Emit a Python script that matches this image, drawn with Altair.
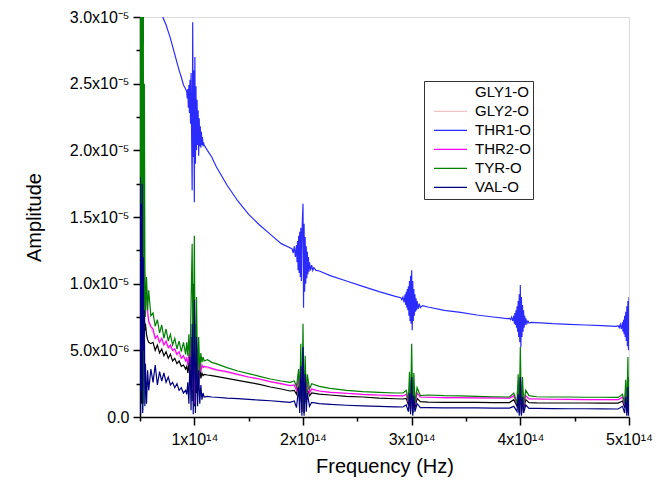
import altair as alt
import pandas as pd

# Frequency samples (units of 1e14 Hz) shared by GLY1, THR2, TYR, VAL
freq = [
    0.50, 0.505, 0.51, 0.515, 0.52, 0.525, 0.53, 0.535, 0.54, 0.545, 0.55, 0.56, 0.57, 0.58, 0.60,
    0.62, 0.64, 0.66, 0.68, 0.70, 0.72, 0.74, 0.76, 0.78, 0.80, 0.82, 0.84, 0.86, 0.88, 0.90, 0.92,
    0.93, 0.94, 0.95, 0.96, 0.97, 0.98, 0.99, 1.00, 1.01, 1.02, 1.03, 1.04, 1.05, 1.06, 1.07, 1.08, 1.09,
    1.12, 1.16, 1.20, 1.30, 1.40, 1.50, 1.60, 1.70, 1.80, 1.88,
    1.92, 1.94, 1.96, 1.97, 1.98, 1.99, 2.00, 2.01, 2.02, 2.03, 2.04, 2.06, 2.08,
    2.15, 2.25, 2.40, 2.55, 2.70, 2.85, 2.92,
    2.95, 2.97, 2.98, 2.99, 3.00, 3.01, 3.02, 3.03, 3.05, 3.08,
    3.15, 3.30, 3.45, 3.60, 3.75, 3.90,
    3.94, 3.97, 3.98, 3.99, 4.00, 4.01, 4.02, 4.03, 4.05, 4.08,
    4.15, 4.30, 4.45, 4.60, 4.75, 4.90,
    4.94, 4.96, 4.97, 4.98, 4.99, 4.995, 5.00,
]

# Amplitudes (units of 1e-6)
gly1 = [
    25, 3, 18, 1, 12, 2, 9, 4, 8, 6.5, 7.0, 6.2, 5.8, 5.6, 5.5,
    5.6, 5.0, 5.4, 4.8, 5.1, 4.6, 4.9, 4.4, 4.7, 4.2, 4.4, 4.0, 4.2, 3.8, 3.9, 3.6,
    3.8, 3.3, 4.2, 2.6, 6.0, 1.2, 10.0, 0.8, 7.0, 1.8, 4.8, 2.5, 3.8, 2.9, 3.3, 3.1, 3.2,
    3.15, 3.1, 3.05, 2.9, 2.75, 2.6, 2.45, 2.25, 2.1, 1.95,
    2.0, 1.7, 2.6, 1.1, 3.2, 0.4, 3.8, 0.3, 3.0, 1.0, 2.2, 1.6, 1.8,
    1.72, 1.65, 1.55, 1.5, 1.42, 1.37, 1.35,
    1.4, 0.9, 2.0, 0.4, 2.6, 0.3, 1.9, 0.7, 1.4, 1.15,
    1.12, 1.1, 1.1, 1.1, 1.08, 1.08,
    1.3, 0.8, 2.0, 0.3, 2.6, 0.2, 1.8, 0.6, 1.3, 1.08,
    1.06, 1.05, 1.05, 1.05, 1.04, 1.04,
    1.2, 0.7, 1.8, 0.4, 2.5, 0.3, 1.6,
]

thr2 = [
    30, 5, 22, 3, 18, 1.5, 15, 2.5, 12, 9.6, 8.5, 9.75, 8.0, 7.2, 6.8,
    6.6, 5.9, 6.1, 5.6, 5.9, 5.4, 5.7, 5.2, 5.4, 5.0, 5.1, 4.7, 4.9, 4.4, 4.6, 4.2,
    4.4, 3.9, 4.8, 3.2, 6.0, 2.0, 7.5, 1.0, 6.5, 2.4, 5.0, 3.0, 4.2, 3.4, 3.9, 3.7, 3.8,
    3.75, 3.65, 3.55, 3.4, 3.2, 3.0, 2.85, 2.65, 2.5, 2.35,
    2.4, 2.0, 3.0, 1.3, 3.5, 0.5, 4.0, 0.3, 3.5, 1.2, 2.6, 1.8, 2.1,
    1.95, 1.85, 1.78, 1.7, 1.65, 1.6, 1.58,
    1.7, 1.1, 2.4, 0.5, 3.0, 0.4, 2.3, 0.9, 1.8, 1.5,
    1.48, 1.46, 1.45, 1.44, 1.43, 1.42,
    1.6, 1.0, 2.4, 0.4, 3.0, 0.2, 2.2, 0.8, 1.6, 1.35,
    1.35, 1.33, 1.32, 1.31, 1.3, 1.3,
    1.5, 0.9, 2.2, 0.5, 3.0, 0.3, 2.0,
]

tyr = [
    45, 8, 40, 2, 38, 0.5, 32, 1, 25, 11, 7.5, 10.5, 8.0, 9.5, 7.6,
    7.8, 6.8, 7.3, 6.3, 6.9, 5.9, 6.6, 5.7, 6.2, 5.4, 5.9, 5.1, 5.7, 4.9, 5.6, 4.7,
    5.6, 4.6, 6.2, 3.8, 8.5, 13.0, 2.0, 13.6, 0.8, 9.0, 2.5, 6.0, 3.4, 4.8, 4.1, 4.5, 4.2,
    4.3, 4.1, 4.0, 3.7, 3.45, 3.25, 3.05, 2.85, 2.7, 2.6,
    2.7, 2.3, 3.6, 1.5, 5.5, 0.6, 7.0, 0.3, 4.6, 1.4, 3.2, 2.1, 2.5,
    2.3, 2.15, 2.0, 1.9, 1.85, 1.8, 1.8,
    2.0, 1.2, 3.4, 0.5, 5.5, 0.3, 3.3, 1.0, 2.2, 1.6,
    1.65, 1.6, 1.58, 1.55, 1.52, 1.5,
    1.8, 1.0, 3.2, 0.4, 5.25, 0.3, 3.0, 0.9, 2.0, 1.6,
    1.52, 1.5, 1.5, 1.48, 1.48, 1.47,
    1.7, 1.0, 2.8, 0.5, 4.5, 0.4, 3.0,
]

val = [
    18, 0.2, 16, 2, 17.5, 0.3, 12, 5, 8, 0.8, 4.0, 1.0, 3.5, 2.0, 3.6,
    2.6, 3.9, 2.4, 3.4, 2.7, 3.3, 2.6, 3.0, 2.4, 2.6, 2.2, 2.5, 2.0, 2.2, 1.8, 2.0,
    1.7, 2.6, 1.0, 4.5, 0.5, 7.0, 0.2, 8.8, 0.3, 6.0, 0.8, 3.5, 1.0, 2.4, 1.3, 1.8, 1.5,
    1.55, 1.5, 1.48, 1.42, 1.38, 1.32, 1.27, 1.22, 1.15, 1.1,
    1.2, 0.7, 2.2, 0.3, 3.8, 0.1, 5.25, 0.1, 3.2, 0.4, 1.8, 0.8, 1.1,
    1.0, 0.95, 0.88, 0.83, 0.8, 0.76, 0.75,
    0.9, 0.4, 1.8, 0.2, 3.0, 0.1, 1.6, 0.4, 1.0, 0.7,
    0.7, 0.69, 0.68, 0.68, 0.67, 0.67,
    0.8, 0.4, 1.7, 0.1, 3.0, 0.1, 1.5, 0.3, 0.9, 0.65,
    0.64, 0.63, 0.62, 0.62, 0.61, 0.6,
    0.8, 0.3, 1.5, 0.1, 2.25, 0.1, 1.0,
]

# THR1-O has its own, denser sampling around the harmonics
thr1_freq = [
    0.50, 0.505, 0.51, 0.515, 0.52, 0.525, 0.53, 0.535, 0.54, 0.545, 0.55, 0.56, 0.57, 0.58, 0.60,
    0.62, 0.64, 0.66, 0.68, 0.70, 0.72, 0.74, 0.76, 0.78, 0.80, 0.82, 0.84, 0.86, 0.88, 0.90, 0.92,
    0.930, 0.935, 0.940, 0.945, 0.950, 0.955, 0.960, 0.965, 0.970, 0.975, 0.980, 0.985, 0.990, 0.995, 1.000, 1.005, 1.010,
    1.015, 1.020, 1.025, 1.030, 1.035, 1.040, 1.045, 1.050, 1.055, 1.060, 1.065, 1.070, 1.075, 1.080, 1.085, 1.090,
    1.12, 1.16, 1.20, 1.30, 1.40, 1.50, 1.60, 1.70, 1.80, 1.88,
    1.90, 1.91, 1.92, 1.93, 1.94, 1.945, 1.950, 1.955, 1.960, 1.965, 1.970, 1.975, 1.980, 1.985, 1.990, 1.995, 2.000,
    2.005, 2.010, 2.015, 2.020, 2.025, 2.030, 2.035, 2.040, 2.045, 2.050, 2.055, 2.06, 2.07, 2.08, 2.09, 2.10, 2.12,
    2.15, 2.25, 2.40, 2.55, 2.70, 2.85,
    2.90, 2.91, 2.92, 2.93, 2.94, 2.945, 2.950, 2.955, 2.960, 2.965, 2.970, 2.975, 2.980, 2.985, 2.990, 2.995, 3.000,
    3.005, 3.010, 3.015, 3.020, 3.025, 3.030, 3.035, 3.040, 3.045, 3.050, 3.06, 3.07, 3.08, 3.10,
    3.15, 3.30, 3.45, 3.60, 3.75, 3.88,
    3.90, 3.91, 3.92, 3.93, 3.94, 3.945, 3.950, 3.955, 3.960, 3.965, 3.970, 3.975, 3.980, 3.985, 3.990, 3.995, 4.000,
    4.005, 4.010, 4.015, 4.020, 4.025, 4.030, 4.035, 4.040, 4.045, 4.050, 4.06, 4.07, 4.08, 4.10,
    4.15, 4.30, 4.45, 4.60, 4.75, 4.88,
    4.90, 4.91, 4.92, 4.93, 4.94, 4.945, 4.950, 4.955, 4.960, 4.965, 4.970, 4.975, 4.980, 4.985, 4.990, 4.995, 5.000,
]
thr1 = [
    45, 36, 42, 12.5, 40, 44, 28, 43, 40, 39, 38, 37, 36, 35, 33.5,
    32.8, 32.0, 31.3, 30.7, 30.2, 29.8, 29.4, 28.9, 28.4, 27.8, 27.2, 26.6, 26.0, 25.5, 24.9, 24.6,
    24.4, 23.9, 24.6, 23.2, 24.9, 22.8, 25.3, 22.0, 25.8, 21.2, 17.0, 29.6, 19.5, 26.0, 16.1, 27.0, 19.0,
    24.8, 20.0, 23.8, 20.4, 23.0, 19.6, 22.4, 20.3, 21.8, 20.2, 21.4, 20.4, 21.0, 20.3, 20.6, 20.4,
    20.0, 19.5, 18.8, 17.4, 16.2, 15.2, 14.4, 13.7, 13.0, 12.7,
    12.6, 12.3, 12.8, 12.0, 12.9, 11.6, 13.2, 11.0, 13.6, 10.8, 13.9, 10.5, 14.2, 10.2, 13.4, 14.9, 16.0,
    8.2, 14.5, 9.4, 13.5, 10.0, 12.8, 10.4, 12.4, 10.7, 12.0, 10.9, 11.6, 11.0, 11.4, 11.0, 11.2, 11.0,
    10.95, 10.6, 10.2, 9.8, 9.4, 9.05,
    8.95, 8.8, 9.0, 8.6, 9.2, 8.4, 9.4, 8.2, 9.6, 8.0, 9.8, 7.6, 10.2, 7.2, 10.6, 7.0, 11.0,
    6.5, 10.2, 7.2, 9.6, 7.6, 9.2, 7.9, 8.9, 8.0, 8.7, 8.1, 8.5, 8.2, 8.35,
    8.25, 8.0, 7.85, 7.65, 7.5, 7.38,
    7.4, 7.3, 7.5, 7.2, 7.6, 7.0, 7.8, 6.9, 8.0, 6.7, 8.3, 6.4, 8.7, 6.0, 9.2, 5.6, 9.9,
    5.25, 9.0, 6.0, 8.4, 6.4, 8.0, 6.7, 7.6, 6.9, 7.4, 7.0, 7.2, 7.05, 7.1,
    7.08, 7.0, 6.95, 6.9, 6.85, 6.8,
    6.85, 6.7, 6.95, 6.6, 7.1, 6.4, 7.3, 6.2, 7.6, 6.0, 7.9, 5.7, 8.3, 5.3, 8.7, 5.0, 9.0,
]

gly2_freq = [0.50, 0.55, 0.58, 0.62, 0.66, 0.70, 0.75, 0.80, 0.85, 0.90,
             0.95, 1.00, 1.05, 1.10, 1.20, 1.40, 1.60, 1.80, 1.95, 2.00,
             2.05, 2.20, 2.50, 2.80, 2.95, 3.00, 3.05, 3.30, 3.60, 3.90,
             3.95, 4.00, 4.05, 4.30, 4.60, 4.90, 4.95, 5.00]
gly2 = [20, 9.0, 7.0, 6.3, 5.8, 5.6, 5.4, 5.0, 4.6, 4.4,
        4.5, 2.0, 4.0, 3.7, 3.5, 3.15, 2.8, 2.45, 2.3, 3.0,
        2.0, 1.9, 1.7, 1.55, 1.6, 2.5, 1.5, 1.43, 1.42, 1.4,
        1.5, 2.5, 1.4, 1.31, 1.3, 1.28, 1.4, 1.8]

series_names = ["GLY1-O", "GLY2-O", "THR1-O", "THR2-O", "TYR-O", "VAL-O"]
legend_colors = ["#ffffff", "#f2c4c4", "#2b2bff", "#ff00ff", "#008000", "#000080"]
gly1_color = "#000000"

x_tick_values = [0.5, 1.0, 1.5, 2.0, 2.5, 3.0, 3.5, 4.0, 4.5, 5.0]
x_tick_labels = ["", "1x10¹⁴", "", "2x10¹⁴", "", "3x10¹⁴", "", "4x10¹⁴", "", "5x10¹⁴"]
y_tick_values = [0, 2.5, 5, 7.5, 10, 12.5, 15, 17.5, 20, 22.5, 25, 27.5, 30]
y_tick_labels = ["0.0", "", "5.0x10⁻⁶", "", "1.0x10⁻⁵", "", "1.5x10⁻⁵", "",
                 "2.0x10⁻⁵", "", "2.5x10⁻⁵", "", "3.0x10⁻⁵"]

# ---- build tables ----
df_gly1 = pd.DataFrame({"freq": freq, "amp": gly1, "series": "GLY1-O"})
parts = [
    pd.DataFrame({"freq": gly2_freq, "amp": gly2, "series": "GLY2-O"}),
    pd.DataFrame({"freq": thr1_freq, "amp": thr1, "series": "THR1-O"}),
]
for name, vals in [("THR2-O", thr2), ("TYR-O", tyr), ("VAL-O", val)]:
    parts.append(pd.DataFrame({"freq": freq, "amp": vals, "series": name}))
df_rest = pd.concat(parts, ignore_index=True)
df_rest["idx"] = range(len(df_rest))
df_gly1["idx"] = range(len(df_gly1))


def label_expr(values, labels):
    s = ""
    for v, lab in zip(values, labels):
        s += f"abs(datum.value - {v}) < 1e-6 ? '{lab}' : "
    return s + "''"


FONT = "Liberation Sans"

x_axis = alt.Axis(
    values=x_tick_values,
    labelExpr=label_expr(x_tick_values, x_tick_labels),
    tickSize={"condition": {"test": "abs(datum.value - round(datum.value)) > 0.01", "value": 4}, "value": 8},
    tickColor="black", tickWidth=1.5, domainColor="black", domainWidth=1.5,
    labelFont=FONT, labelFontSize=16, labelColor="black", labelPadding=6,
    labelFlush=False, labelOverlap=False,
    titleFont=FONT, titleFontSize=20, titleFontWeight="normal", titleColor="black", titlePadding=9,
    grid=False,
)
y_axis = alt.Axis(
    values=y_tick_values,
    labelExpr=label_expr(y_tick_values, y_tick_labels),
    tickSize={"condition": {"test": "round(datum.value * 10) % 50 != 0", "value": 4}, "value": 7},
    tickColor="black", tickWidth=1.5, domainColor="black", domainWidth=1.5,
    labelFont=FONT, labelFontSize=16, labelColor="black", labelPadding=4,
    labelFlush=False, labelOverlap=False,
    titleFont=FONT, titleFontSize=20, titleFontWeight="normal", titleColor="black", titlePadding=25,
    grid=False,
)

x_enc = alt.X("freq:Q", scale=alt.Scale(domain=[0.5, 5.0], nice=False, zero=False),
              axis=x_axis, title="Frequency (Hz)")
y_enc = alt.Y("amp:Q", scale=alt.Scale(domain=[0, 30], nice=False, zero=False),
              axis=y_axis, title="Amplitude")

black = alt.Chart(df_gly1).mark_line(color=gly1_color, strokeWidth=1.2, clip=True).encode(
    x=x_enc, y=y_enc, order="idx:Q"
)

colored = alt.Chart(df_rest).mark_line(strokeWidth=1.2, clip=True).encode(
    x=x_enc, y=y_enc, order="idx:Q",
    color=alt.Color(
        "series:N",
        scale=alt.Scale(domain=series_names, range=legend_colors),
        legend=alt.Legend(
            orient="none", legendX=284, legendY=64, title=None,
            symbolType="stroke", symbolSize=1089, symbolStrokeWidth=1.2,
            labelFont=FONT, labelFontSize=15, labelColor="black",
            strokeColor="#333333", fillColor="white", padding=2,
            rowPadding=0, clipHeight=18.7, labelOffset=7, symbolOffset=7,
        ),
    ),
)

chart = alt.layer(black, colored).properties(
    width=489, height=400,
    padding={"left": 132, "top": 9, "right": 30, "bottom": 69},
    autosize=alt.AutoSizeParams(type="none"),
).configure_view(stroke=None).configure(background="white", font=FONT)

chart.save("out.html", embed_options={"renderer": "svg", "actions": False})
